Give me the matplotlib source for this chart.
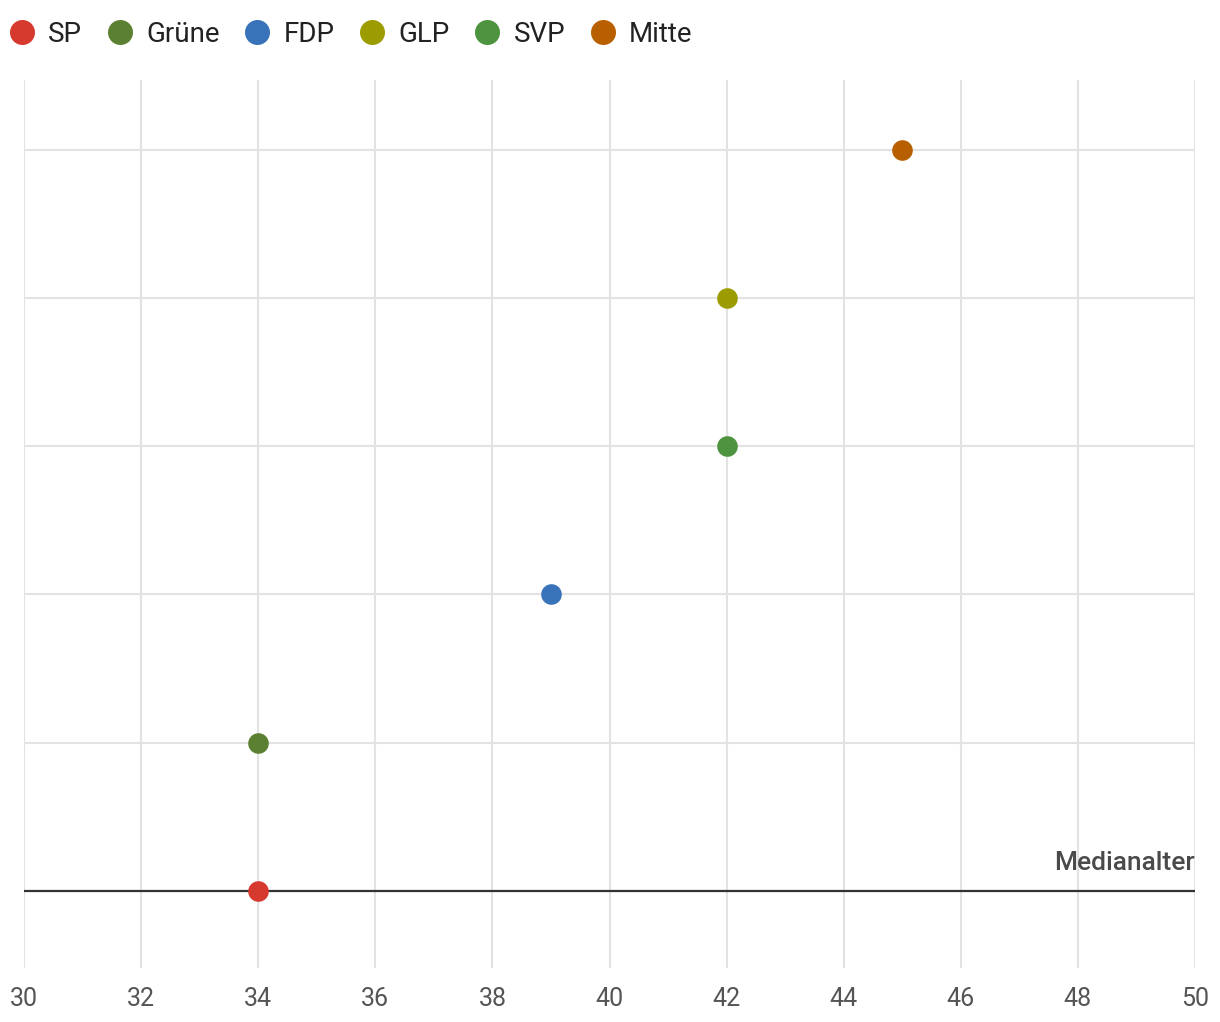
import matplotlib
matplotlib.use("Agg")
import matplotlib.pyplot as plt
from matplotlib.lines import Line2D

plt.rcParams['font.family'] = ['Roboto', 'DejaVu Sans']

parties = ["SP", "Grüne", "FDP", "GLP", "SVP", "Mitte"]
colors = ["#d63a2f", "#5b8031", "#3872b8", "#9c9c00", "#4e9340", "#b86000"]
median_age = [34, 34, 39, 42, 42, 45]
row_order = ["SP", "Grüne", "FDP", "SVP", "GLP", "Mitte"]
x_ticks = [30, 32, 34, 36, 38, 40, 42, 44, 46, 48, 50]

fig = plt.figure(figsize=(12.2, 10.22), dpi=100)
ax = fig.add_axes([24/1220, (1022-968)/1022, (1195-24)/1220, (968-80)/1022])

for i in range(1, len(row_order)):
    ax.axhline(i, color="#e3e3e3", lw=1.5, zorder=1)
for xt in x_ticks:
    ax.axvline(xt, color="#e3e3e3", lw=1.5, zorder=1)
ax.axhline(0, color="#333333", lw=1.6, zorder=2)

for p, c, v in zip(parties, colors, median_age):
    ax.scatter([v], [row_order.index(p)], s=220, color=c, zorder=3, linewidths=0)

ax.text(50, 0.11, "Medianalter", ha="right", va="bottom", fontsize=19,
        fontweight="medium", color="#4a4a4a")

ax.set_xlim(30, 50)
ax.set_ylim(-0.52, 5.47)
ax.set_xticks(x_ticks)
ax.set_yticks([])
ax.tick_params(axis="x", length=0, pad=14, labelsize=18, labelcolor="#555555")
for s in ax.spines.values():
    s.set_visible(False)

handles = [Line2D([], [], marker="o", linestyle="", markersize=18,
                  markerfacecolor=c, markeredgewidth=0) for c in colors]
leg = fig.legend(handles, parties, loc="center left", bbox_to_anchor=(-0.014, 1 - 34/1022),
                 ncol=6, frameon=False, fontsize=20, handletextpad=0.45,
                 columnspacing=0.85, handlelength=1.0, labelcolor="#222222")

fig.savefig("out.png", dpi=100)
